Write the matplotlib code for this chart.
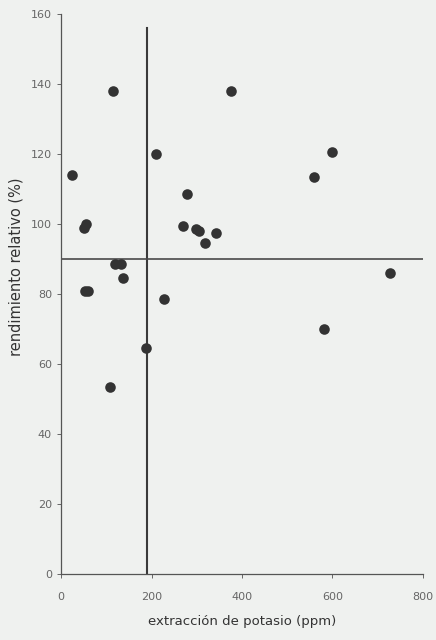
import matplotlib.pyplot as plt

# extracción de potasio (ppm) vs rendimiento relativo (%)
potasio = [25, 50, 56, 115, 209, 53, 59, 119, 133, 138, 228, 187, 108,
           278, 269, 298, 305, 318, 343, 376, 598, 560, 727, 582]
rendimiento = [114, 99, 100, 138, 120, 81, 81, 88.5, 88.5, 84.5, 78.5, 64.5, 53.5,
               108.5, 99.5, 98.5, 98, 94.5, 97.5, 138, 120.5, 113.5, 86, 70]

nivel_critico_x = 190
nivel_critico_y = 90

fig = plt.figure(figsize=(4.36, 6.4), dpi=100)
fig.patch.set_facecolor("#eff1ef")
ax = fig.add_axes([0.14, 0.103, 0.83, 0.875])
ax.set_facecolor("#eff1ef")

ax.plot([nivel_critico_x, nivel_critico_x], [0, 156], color="#3a3a3a", linewidth=1.5)
ax.plot([0, 805], [nivel_critico_y, nivel_critico_y], color="#4a4a4a", linewidth=1.2)

ax.scatter(potasio, rendimiento, s=58, color="#333333", zorder=3, linewidths=0)

ax.set_xlim(0, 800)
ax.set_ylim(0, 160)
ax.set_xticks([0, 200, 400, 600, 800])
ax.set_yticks(range(0, 161, 20))

for s in ["top", "right"]:
    ax.spines[s].set_visible(False)
for s in ["left", "bottom"]:
    ax.spines[s].set_color("#555555")
    ax.spines[s].set_linewidth(0.9)

ax.tick_params(axis="both", labelsize=8, colors="#666666", length=3, width=0.7)
ax.tick_params(axis="x", pad=10)

ax.set_xlabel("extracción de potasio (ppm)", fontsize=9.5, color="#333333", labelpad=9)
ax.set_ylabel("rendimiento relativo (%)", fontsize=10.5, color="#333333")
ax.yaxis.set_label_coords(-0.105, 0.548)

plt.savefig("out.png", dpi=100, facecolor=fig.get_facecolor())
plt.close()
